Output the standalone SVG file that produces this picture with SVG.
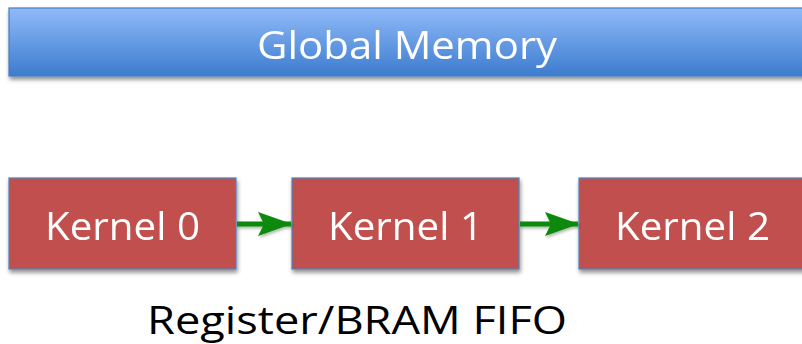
<svg xmlns="http://www.w3.org/2000/svg" width="802" height="344" viewBox="0 0 802 344">
  <defs>
    <linearGradient id="memFill" x1="0" y1="0" x2="0" y2="1">
      <stop offset="0" stop-color="#8FBAF9"/>
      <stop offset="1" stop-color="#3D7CCE"/>
    </linearGradient>
    <filter id="shadow" x="-5%" y="-20%" width="110%" height="150%">
      <feGaussianBlur in="SourceAlpha" stdDeviation="2.2"/>
      <feOffset dx="1" dy="3" result="b"/>
      <feComponentTransfer><feFuncA type="linear" slope="0.45"/></feComponentTransfer>
      <feMerge><feMergeNode/><feMergeNode in="SourceGraphic"/></feMerge>
    </filter>
    <!-- user-space region so the thin horizontal connectors are not clipped -->
    <filter id="softShadow" filterUnits="userSpaceOnUse" x="220" y="200" width="380" height="50">
      <feGaussianBlur in="SourceAlpha" stdDeviation="1.5"/>
      <feOffset dx="1" dy="2"/>
      <feComponentTransfer><feFuncA type="linear" slope="0.3"/></feComponentTransfer>
      <feMerge><feMergeNode/><feMergeNode in="SourceGraphic"/></feMerge>
    </filter>
    <marker id="head" viewBox="0 0 34 24" refX="33" refY="12" markerUnits="userSpaceOnUse" markerWidth="34" markerHeight="24" orient="auto">
      <path d="M0,0 L34,12 L0,24 L6,12 Z" fill="#0A8A0A"/>
    </marker>
  </defs>
  <style>
    .kernel { fill: #C0504D; stroke: #4F81BD; stroke-width: 1.2; }
    .label { font-family: "Open Sans", "Liberation Sans", sans-serif; font-size: 38px; fill: #FFFFFF; text-anchor: middle; }
    .caption { font-family: "Open Sans", "Liberation Sans", sans-serif; font-size: 38px; fill: #000000; text-anchor: middle; }
    .flow { stroke: #0A8A0A; stroke-width: 5; fill: none; }
  </style>

  <rect width="802" height="344" fill="#FFFFFF"/>

  <g id="global-memory" filter="url(#shadow)">
    <rect x="9" y="8" width="800" height="68" fill="url(#memFill)" stroke="#4A7EBB" stroke-width="1.2"/>
    <text class="label" x="407" y="59" textLength="300" lengthAdjust="spacingAndGlyphs">Global Memory</text>
  </g>

  <g id="kernel-0" filter="url(#shadow)">
    <rect class="kernel" x="9" y="178" width="227" height="91"/>
    <text class="label" x="122.5" y="240" textLength="155" lengthAdjust="spacingAndGlyphs">Kernel 0</text>
  </g>

  <g id="kernel-1" filter="url(#shadow)">
    <rect class="kernel" x="292" y="178" width="227" height="91"/>
    <text class="label" x="405.5" y="240" textLength="155" lengthAdjust="spacingAndGlyphs">Kernel 1</text>
  </g>

  <g id="kernel-2" filter="url(#shadow)">
    <rect class="kernel" x="579" y="178" width="227" height="91"/>
    <text class="label" x="692.5" y="240" textLength="155" lengthAdjust="spacingAndGlyphs">Kernel 2</text>
  </g>

  <g id="connectors" filter="url(#softShadow)">
    <line class="flow" x1="237" y1="224" x2="291" y2="224" marker-end="url(#head)"/>
    <line class="flow" x1="520" y1="224" x2="578" y2="224" marker-end="url(#head)"/>
  </g>

  <g id="fifo-caption">
    <text class="caption" x="357" y="334" textLength="420" lengthAdjust="spacingAndGlyphs">Register/BRAM FIFO</text>
  </g>
</svg>
